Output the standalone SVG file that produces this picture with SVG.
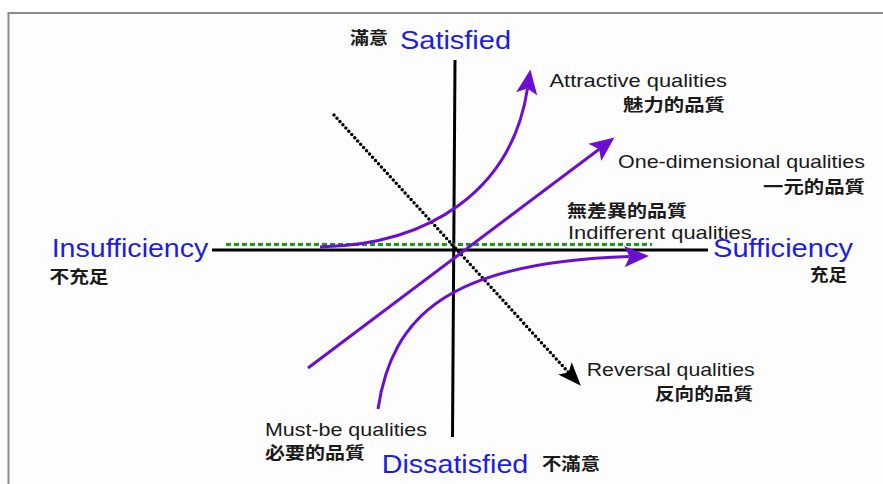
<svg xmlns="http://www.w3.org/2000/svg" width="883" height="484" viewBox="0 0 883 484">
<style>
.en{font-family:"Liberation Sans",Arial,sans-serif;fill:#1a1a1a;font-size:19px}
.zh{font-family:"Noto Sans CJK TC","Noto Sans CJK SC",sans-serif;fill:#1a1a1a;font-size:17px;font-weight:bold}
.ax{font-family:"Liberation Sans",Arial,sans-serif;fill:#1e1ee0;font-size:26px}
.axis{stroke:#000;stroke-width:3;fill:none}
.cur{stroke:#6a0fd2;stroke-width:3;fill:none}
</style>
<defs>
<marker id="pa" markerUnits="userSpaceOnUse" markerWidth="30" markerHeight="30" viewBox="-2 -12 28 24" refX="5" refY="0" orient="auto" overflow="visible">
<path d="M0,-10 L23,0 L0,10 L5,0 z" fill="#6a0fd2"/>
</marker>
<marker id="ba" markerUnits="userSpaceOnUse" markerWidth="30" markerHeight="30" viewBox="-2 -12 28 24" refX="5" refY="0" orient="auto" overflow="visible">
<path d="M0,-8.5 L22,0 L0,8.5 L5,0 z" fill="#000"/>
</marker>
</defs>
<rect x="0" y="0" width="883" height="484" fill="#ffffff"/>
<rect x="8.5" y="13" width="900" height="500" fill="#fdfdfd" stroke="#8a8a8a" stroke-width="2"/>

<g id="axes">
<line class="axis" x1="455" y1="60" x2="452.5" y2="437"/>
<line class="axis" x1="212" y1="250" x2="708" y2="250"/>
</g>

<g id="connectors">
<line id="indifferent-line" x1="226" y1="244.5" x2="652" y2="244.5" stroke="#1a9a1a" stroke-width="3" stroke-dasharray="5,3"/>
<line id="reversal-line" x1="334" y1="115" x2="568.6" y2="372.4" stroke="#000" stroke-width="3.5" stroke-linecap="round" stroke-dasharray="0,4.4" marker-end="url(#ba)"/>
<path id="attractive-curve" class="cur" d="M320,247 C430,245 512,190 527.5,88.5" marker-end="url(#pa)"/>
<line id="one-dimensional-line" class="cur" x1="308" y1="368" x2="599.1" y2="149.2" marker-end="url(#pa)"/>
<path id="must-be-curve" class="cur" d="M378,409 C392,315 450,262 629.7,256.5" marker-end="url(#pa)"/>
</g>

<g id="satisfied">
<text class="zh" x="350" y="43.5" textLength="38" lengthAdjust="spacingAndGlyphs">滿意</text>
<text class="ax" x="400" y="49.3" textLength="111" lengthAdjust="spacingAndGlyphs">Satisfied</text>
</g>
<g id="dissatisfied">
<text class="ax" x="381.7" y="472.7" textLength="146.6" lengthAdjust="spacingAndGlyphs">Dissatisfied</text>
<text class="zh" x="542" y="470" textLength="58" lengthAdjust="spacingAndGlyphs">不滿意</text>
</g>
<g id="insufficiency">
<text class="ax" x="51.7" y="257" textLength="156.6" lengthAdjust="spacingAndGlyphs">Insufficiency</text>
<text class="zh" x="49.5" y="283" textLength="59" lengthAdjust="spacingAndGlyphs">不充足</text>
</g>
<g id="sufficiency">
<text class="ax" x="713" y="257" textLength="140" lengthAdjust="spacingAndGlyphs">Sufficiency</text>
<text class="zh" x="810" y="281.3" textLength="37" lengthAdjust="spacingAndGlyphs">充足</text>
</g>
<g id="attractive">
<text class="en" x="549.5" y="86.5" textLength="177.5" lengthAdjust="spacingAndGlyphs">Attractive qualities</text>
<text class="zh" x="623" y="111.3" textLength="102" lengthAdjust="spacingAndGlyphs">魅力的品質</text>
</g>
<g id="one-dimensional">
<text class="en" x="618" y="168" textLength="247" lengthAdjust="spacingAndGlyphs">One-dimensional qualities</text>
<text class="zh" x="763" y="192.5" textLength="102" lengthAdjust="spacingAndGlyphs">一元的品質</text>
</g>
<g id="indifferent">
<text class="zh" x="567" y="216.5" textLength="120" lengthAdjust="spacingAndGlyphs">無差異的品質</text>
<text class="en" x="568" y="239.3" textLength="183.7" lengthAdjust="spacingAndGlyphs">Indifferent qualities</text>
</g>
<g id="reversal">
<text class="en" x="586.7" y="376" textLength="168" lengthAdjust="spacingAndGlyphs">Reversal qualities</text>
<text class="zh" x="655" y="400" textLength="98" lengthAdjust="spacingAndGlyphs">反向的品質</text>
</g>
<g id="must-be">
<text class="en" x="265" y="436" textLength="162" lengthAdjust="spacingAndGlyphs">Must-be qualities</text>
<text class="zh" x="265" y="458.5" textLength="100" lengthAdjust="spacingAndGlyphs">必要的品質</text>
</g>
</svg>
